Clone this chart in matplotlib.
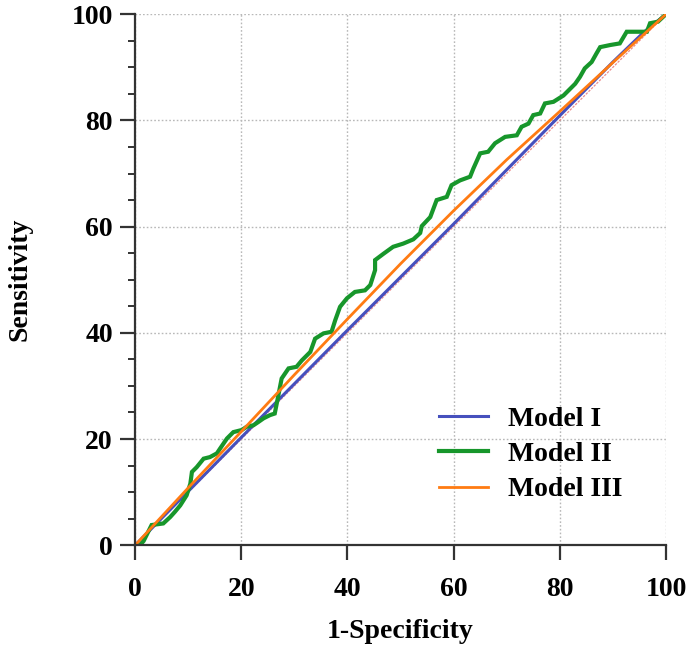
import matplotlib
matplotlib.use("Agg")
import matplotlib.pyplot as plt
from matplotlib.ticker import MultipleLocator

# ROC curves (1-specificity, sensitivity in %)
model1_x = [0, 20, 40, 60, 80, 90, 95.8, 100]
model1_y = [0, 20.3, 40.5, 60.5, 80.9, 91.0, 96.6, 100]

model2_x = [0, 0.9, 1.6, 3.1, 5.3, 6.6, 7.5, 8.5, 9.7, 10.4, 10.7, 11.6, 12.9, 14.1,
            15.4, 16.0, 17.3, 18.5, 20.1, 21.0, 22.3, 23.2, 24.2, 25.4, 26.3, 26.8,
            27.6, 28.9, 30.4, 31.4, 33.0, 33.9, 35.5, 37.0, 37.7, 38.6, 39.9, 41.4,
            43.3, 44.3, 45.2, 45.2, 46.8, 48.6, 50.5, 52.4, 53.7, 54.0, 55.6, 56.8,
            58.7, 59.6, 61.2, 63.1, 63.7, 65.0, 66.5, 67.8, 69.7, 71.9, 72.8, 74.1,
            75.0, 76.3, 77.2, 78.8, 80.7, 82.9, 83.8, 84.7, 86.0, 86.9, 87.6, 89.5,
            91.3, 92.6, 96.4, 97.0, 98.5, 100]
model2_y = [0, 0, 0.8, 3.8, 4.1, 5.3, 6.3, 7.5, 9.4, 11.6, 13.8, 14.7, 16.3, 16.6,
            17.3, 18.2, 20.1, 21.3, 21.7, 22.3, 22.6, 23.2, 23.9, 24.5, 24.8, 27.3,
            31.4, 33.3, 33.6, 34.8, 36.4, 38.9, 39.9, 40.2, 42.4, 44.9, 46.5, 47.7,
            48.0, 49.0, 51.8, 53.7, 54.9, 56.2, 56.8, 57.6, 58.8, 60.1, 61.8, 65.0,
            65.6, 67.8, 68.7, 69.4, 70.9, 73.8, 74.1, 75.7, 76.9, 77.2, 78.8, 79.4,
            81.0, 81.3, 83.2, 83.5, 84.7, 86.9, 88.2, 89.8, 91.0, 92.6, 93.8, 94.2,
            94.5, 96.7, 96.7, 98.3, 98.6, 100]

model3_x = [0, 10, 20, 30, 40, 50, 60, 70, 80, 90, 100]
model3_y = [0, 10.8, 21.4, 32.1, 42.6, 53.0, 63.0, 72.6, 81.7, 90.9, 100]

labels = ["Model I", "Model II", "Model III"]
colors = ["#4650bd", "#17962b", "#ff7b12"]

plt.rcParams["font.family"] = "Liberation Serif"
plt.rcParams["font.weight"] = "bold"

fig = plt.figure(figsize=(6.93, 6.46), dpi=100)
ax = fig.add_axes([0.195, 0.156, 0.766, 0.822])

# chance line
ax.plot([0, 100], [0, 100], color="#e87070", lw=0.9, ls=(0, (2, 1)), alpha=0.8)

ax.plot(model1_x, model1_y, color=colors[0], lw=2.2, label=labels[0])
ax.plot(model2_x, model2_y, color=colors[1], lw=3.0, label=labels[1], solid_joinstyle="miter")
ax.plot(model3_x, model3_y, color=colors[2], lw=2.0, label=labels[2])

ax.set_xlim(0, 100)
ax.set_ylim(0, 100)
ax.xaxis.set_major_locator(MultipleLocator(20))
ax.yaxis.set_major_locator(MultipleLocator(20))
ax.yaxis.set_minor_locator(MultipleLocator(5))

ax.grid(True, which="major", color="#b8b8b8", ls=(0, (1.2, 1.5)), lw=1.0)
ax.set_axisbelow(True)

for side in ["top", "right"]:
    ax.spines[side].set_visible(False)
for side in ["left", "bottom"]:
    ax.spines[side].set_linewidth(1.6)
    ax.spines[side].set_color("#333333")

ax.tick_params(axis="both", which="major", direction="out", length=11, width=1.6,
               color="#333333", labelsize=20)
ax.tick_params(axis="x", which="major", pad=12)
ax.tick_params(axis="y", which="major", pad=5)
ax.tick_params(axis="y", which="minor", direction="out", length=5, width=1.4, color="#333333")

ax.set_xlabel("1-Specificity", fontsize=20, fontweight="bold", labelpad=12)
ax.set_ylabel("Sensitivity", fontsize=20, fontweight="bold", labelpad=28)

ax.legend(loc="upper left", bbox_to_anchor=(0.573, 0.262), frameon=False,
          fontsize=20, handlelength=1.75, handletextpad=0.72, labelspacing=0.36,
          borderpad=0, borderaxespad=0)

fig.savefig("out.png", dpi=100)
